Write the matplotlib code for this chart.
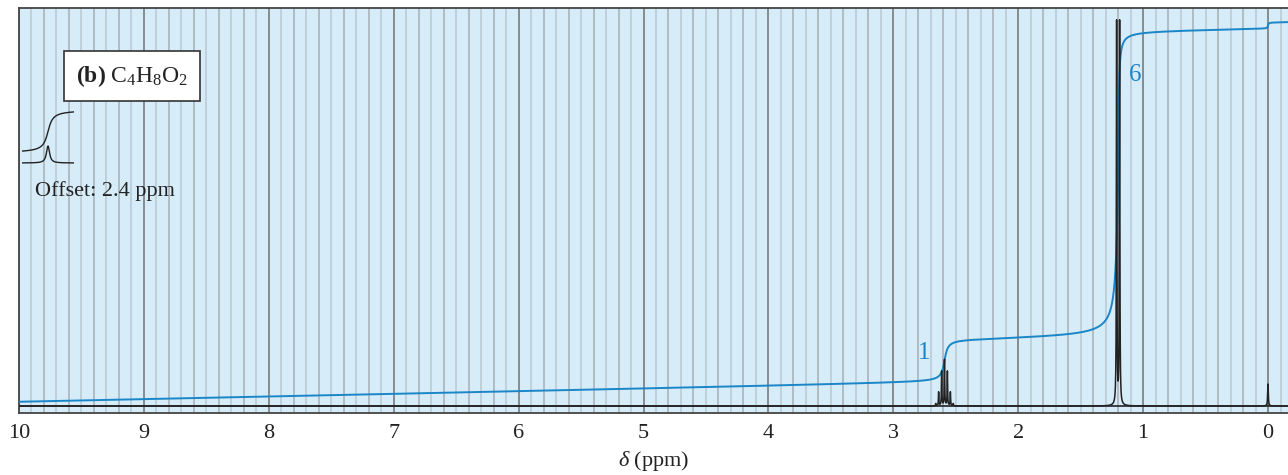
import numpy as np
import matplotlib.pyplot as plt

plt.rcParams['font.family'] = ['Liberation Serif', 'DejaVu Serif']
plt.rcParams['mathtext.fontset'] = 'custom'
plt.rcParams['mathtext.rm'] = 'Liberation Serif'
plt.rcParams['mathtext.it'] = 'Liberation Serif:italic'
plt.rcParams['mathtext.bf'] = 'Liberation Serif:bold'

# x axis ticks (ppm)
tick_values = [10, 9, 8, 7, 6, 5, 4, 3, 2, 1, 0]
tick_labels = ["10", "9", "8", "7", "6", "5", "4", "3", "2", "1", "0"]

# peak list: septet at 2.59 (CH), doublet at 1.20 (CH3 x2), TMS at 0
septet_ppm = [2.660, 2.637, 2.613, 2.590, 2.567, 2.543, 2.520]
septet_heights = [2.3, 13.8, 34.5, 46.0, 34.5, 13.8, 2.3]
doublet_ppm = [1.212, 1.188]
doublet_heights = [383.0, 383.0]
tms_ppm = [0.0]
tms_heights = [22.0]

# integral trace
integral_ppm = [2.59, 1.20, 0.00]
integral_steps = [42.0, 306.0, 6.0]
integral_w_before = [0.02, 0.018, 0.004]
integral_w_after = [0.02, 0.005, 0.004]
integral_start = 4.0
integral_drift = 2.6   # rise per ppm
integral_labels = ["1", "6"]
label_ppm = [2.75, 1.06]
label_y = [53, 331]

# offset inset (COOH peak)
acid_ppm = 12.0
acid_height = 17.0
acid_step = 43.0
acid_base = 10.0


def lorentz(x, centers, heights, w):
    y = np.zeros_like(x)
    for c, h in zip(centers, heights):
        y += h * w**2 / ((x - c)**2 + w**2)
    return y


def arcstep(x, centers, steps, w_before, w_after):
    y = np.zeros_like(x)
    for c, s, wb, wa in zip(centers, steps, w_before, w_after):
        w = np.where(x > c, wb, wa)
        y += s * (0.5 + np.arctan((c - x) / w) / np.pi)
    return y


line_pos = np.array(septet_ppm + doublet_ppm + tms_ppm)
x = np.sort(np.concatenate([np.arange(-0.2, 10.0001, 0.0004), line_pos]))
spec = (lorentz(x, septet_ppm, septet_heights, 0.0022)
        + lorentz(x, doublet_ppm, doublet_heights, 0.0022)
        + lorentz(x, tms_ppm, tms_heights, 0.003))
integ = (integral_start + integral_drift * (10 - x)
         + arcstep(x, integral_ppm, integral_steps, integral_w_before, integral_w_after))

fig = plt.figure(figsize=(12.88, 4.75), dpi=100)
ax = fig.add_axes([19 / 1288, 62 / 475, 1 - 19 / 1288, 405 / 475])
ax.set_facecolor('#d6ecf9')

# chart paper grid
for i in range(-1, 101):
    v = i / 10
    if i % 10 == 0:
        ax.axvline(v, color='#878c90', lw=1.4, zorder=1)
    elif i % 2 == 0:
        ax.axvline(v, color='#aab3ba', lw=1.2, zorder=1)
    else:
        ax.axvline(v, color='#bccbd4', lw=1.2, zorder=1)

ax.axhline(0, color='#222222', lw=1.2, zorder=2)
ax.plot(x, spec, color='#222222', lw=1.1, zorder=4)
ax.plot(x, integ, color='#1a86c8', lw=1.4, zorder=3)

for lab, px, py in zip(integral_labels, label_ppm, label_y):
    ax.text(px, py, lab, color='#1a86c8', fontsize=18, ha='center', va='center', zorder=5)

ax.set_xlim(10, -0.16)
ax.set_ylim(-7, 398)
ax.set_yticks([])
ax.set_xticks(tick_values)
ax.set_xticklabels(tick_labels, fontsize=16, color='#222222')
ax.tick_params(axis='x', length=0, pad=8)
ax.set_xlabel(r"$\it{\delta}$ (ppm)", fontsize=16, color='#222222', labelpad=4)
for side in ['left', 'top', 'bottom']:
    ax.spines[side].set_color('#444444')
    ax.spines[side].set_linewidth(1.3)
ax.spines['right'].set_visible(False)

# formula box
fig.text(132 / 1288, 1 - 76 / 475, r"$\mathbf{(b)}\ \mathrm{C_4H_8O_2}$", fontsize=17,
         ha='center', va='center', color='#222222',
         bbox=dict(boxstyle='square,pad=0.5', facecolor='white', edgecolor='#333333', lw=1.2))

# offset inset
ins = fig.add_axes([22 / 1288, 1 - 168 / 475, 52 / 1288, 63 / 475])
ins.set_axis_off()
xi = np.linspace(12.25, 11.75, 400)
ins.plot(xi, lorentz(xi, [acid_ppm], [acid_height], 0.018), color='#222222', lw=1.0)
ins.plot(xi, acid_base + arcstep(xi, [acid_ppm], [acid_step], [0.035], [0.035]),
         color='#222222', lw=1.0)
ins.set_xlim(12.25, 11.75)
ins.set_ylim(-5, 58)
fig.text(35 / 1288, 1 - 191 / 475, "Offset: 2.4 ppm", fontsize=16, ha='left', va='center',
         color='#222222')

fig.savefig("out.png", dpi=100)
